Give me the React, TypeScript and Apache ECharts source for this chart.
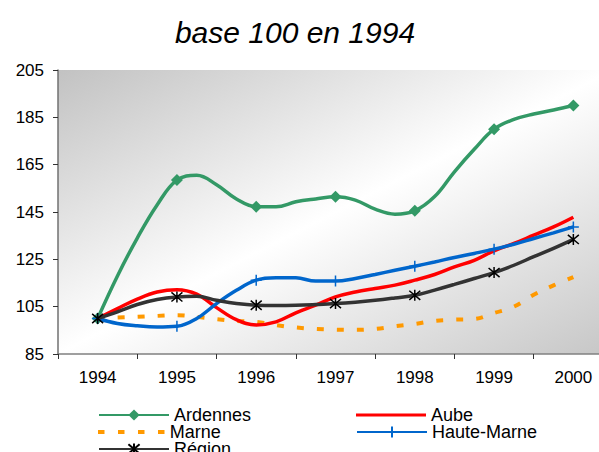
import React, { useEffect, useRef } from "react";
import * as echarts from "echarts";

const TITLE = "base 100 en 1994";
const YEARS = ["1994", "1995", "1996", "1997", "1998", "1999", "2000"];
const Y_MIN = 85;
const Y_MAX = 205;
const Y_STEP = 20;

// quarterly positions of the data points
const QUARTERS = [
  1994, 1994.25, 1994.5, 1994.75, 1995, 1995.25, 1995.5, 1995.75, 1996, 1996.25, 1996.5, 1996.75,
  1997, 1997.25, 1997.5, 1997.75, 1998, 1998.25, 1998.5, 1998.75, 1999, 1999.25, 1999.5, 1999.75, 2000,
];

const ARDENNES = [
  100, 118, 134, 148, 158.5, 160.5, 156.5, 150.5, 147.2, 147.2, 149.3, 150.5,
  151.4, 150, 146.2, 144.1, 145.5, 151.5, 162, 171.5, 180, 184.1, 186.4, 188.1, 190,
];
const AUBE = [
  100, 104.2, 108.2, 111.2, 112.2, 110.3, 104.6, 99.5, 97.3, 98.6, 102.4, 105.6,
  109.1, 111.2, 112.7, 114.1, 116.2, 118.6, 121.8, 124.6, 128.6, 131.7, 135.2, 138.7, 142.8,
];
const MARNE = [
  100, 100.4, 100.7, 101.1, 101.4, 100.7, 99.7, 99, 98.6, 97.2, 96.2, 95.6,
  95.3, 95.2, 95.6, 96.7, 97.7, 99, 99.5, 99.8, 102.3, 105, 110, 114, 117.5,
];
const HAUTE_MARNE = [
  100, 97.9, 96.9, 96.4, 96.7, 100, 106.3, 111.9, 116.2, 117.2, 117.2, 115.8,
  115.8, 116.9, 118.6, 120.4, 122.1, 123.9, 125.8, 127.5, 129.3, 131.4, 133.8, 136.2, 138.7,
];
const REGION = [
  100, 102.8, 105.9, 108, 109.1, 109.4, 107.7, 106.3, 105.6, 105.5, 105.6, 105.9,
  106.3, 106.9, 107.7, 108.7, 109.8, 112, 114.4, 116.9, 119.4, 122.5, 126.1, 129.6, 133.4,
];

const FONT = "'Liberation Sans', Arial, sans-serif";

const PLUS_PATH = "path://M5,0L5,10M0,5L10,5";
const STAR_PATH = "path://M0,0L10,10M10,0L0,10M5,-1L5,11";
const DASH_ICON = "path://M0,0h6.5v4h-6.5z M20,0h6.5v4h-6.5z M40,0h6.5v4h-6.5z M60,0h6.5v4h-6.5z";

function pairs(vals: number[]) {
  return vals.map((v, i) => [QUARTERS[i], v]);
}

const markerSize = (size: number) => (val: number[]) => (Number.isInteger(val[0]) ? size : 0);

export default function App() {
  const ref = useRef<HTMLDivElement>(null);

  useEffect(() => {
    document.body.style.margin = "0";
    if (!ref.current) return;
    const chart = echarts.init(ref.current, null, { renderer: "svg" });

    const legendCommon = {
      orient: "horizontal" as const,
      padding: 0,
      itemWidth: 70,
      itemHeight: 14,
      selectedMode: false,
      textStyle: { fontSize: 18, color: "#000", fontFamily: FONT, lineHeight: 14 },
    };

    const option: any = {
      animation: false,
      backgroundColor: "#ffffff",
      graphic: [
        {
          type: "text",
          x: 295,
          y: 32,
          style: {
            text: TITLE,
            font: `italic 30px ${FONT}`,
            fill: "#000",
            textAlign: "center",
            textVerticalAlign: "middle",
          },
        },
      ],
      grid: {
        left: 58,
        top: 70,
        right: -14,
        bottom: 98,
        containLabel: false,
        outerBoundsMode: "none",
        show: true,
        borderWidth: 0,
        backgroundColor: new echarts.graphic.LinearGradient(0, 0, 1, 1, [
          { offset: 0, color: "#c2c2c2" },
          { offset: 0.5, color: "#ffffff" },
          { offset: 1, color: "#c6c6c6" },
        ]),
      },
      legend: [
        { ...legendCommon, data: ["Ardennes"], left: 98, top: 406 },
        { ...legendCommon, data: [{ name: "Marne", icon: DASH_ICON }], left: 98, top: 423, itemWidth: 67, itemHeight: 4 },
        { ...legendCommon, data: ["Région"], left: 98, top: 440 },
        { ...legendCommon, data: [{ name: "Aube", icon: "rect" }], left: 356, top: 406, itemHeight: 3 },
        { ...legendCommon, data: ["Haute-Marne"], left: 356, top: 423 },
      ],
      xAxis: [
        {
          type: "category",
          data: YEARS,
          boundaryGap: true,
          axisLine: { show: true, lineStyle: { color: "#808080", width: 1.5 } },
          axisTick: { show: true, length: 5, inside: false, lineStyle: { color: "#333", width: 1 } },
          axisLabel: { fontSize: 17, color: "#000", fontFamily: FONT, margin: 15 },
          splitLine: { show: false },
        },
        { type: "value", min: 1993.5, max: 2000.5, show: false },
      ],
      yAxis: {
        type: "value",
        min: Y_MIN,
        max: Y_MAX,
        interval: Y_STEP,
        axisLine: { show: true, lineStyle: { color: "#707070", width: 1.5 } },
        axisTick: { show: true, length: 5, inside: false, lineStyle: { color: "#333", width: 1 } },
        axisLabel: { fontSize: 17, color: "#000", fontFamily: FONT, margin: 14 },
        splitLine: { show: false },
      },
      series: [
        {
          name: "Ardennes",
          type: "line",
          xAxisIndex: 1,
          data: pairs(ARDENNES),
          smooth: 0.4,
          symbol: "diamond",
          symbolSize: markerSize(12),
          lineStyle: { color: "#339966", width: 3.5 },
          itemStyle: { color: "#339966" },
          z: 2,
        },
        {
          name: "Aube",
          type: "line",
          xAxisIndex: 1,
          data: pairs(AUBE),
          smooth: 0.4,
          showSymbol: false,
          symbol: "none",
          lineStyle: { color: "#ff0000", width: 3.5 },
          itemStyle: { color: "#ff0000" },
          z: 3,
        },
        {
          name: "Marne",
          type: "line",
          xAxisIndex: 1,
          data: pairs(MARNE),
          smooth: 0.4,
          showSymbol: false,
          symbol: "none",
          lineStyle: { color: "#ff9900", width: 4, type: [7, 13], cap: "butt" },
          itemStyle: { color: "#ff9900" },
          z: 2,
        },
        {
          name: "Haute-Marne",
          type: "line",
          xAxisIndex: 1,
          data: pairs(HAUTE_MARNE),
          smooth: 0.4,
          symbol: PLUS_PATH,
          symbolSize: markerSize(11),
          lineStyle: { color: "#0066cc", width: 3.5 },
          itemStyle: { color: "#0066cc", borderColor: "#0066cc", borderWidth: 1.5 },
          z: 4,
        },
        {
          name: "Région",
          type: "line",
          xAxisIndex: 1,
          data: pairs(REGION),
          smooth: 0.4,
          symbol: STAR_PATH,
          symbolSize: markerSize(11),
          lineStyle: { color: "#333333", width: 3.5 },
          itemStyle: { color: "#000000", borderColor: "#000000", borderWidth: 1.5 },
          z: 5,
        },
      ],
    };

    chart.setOption(option);
    return () => chart.dispose();
  }, []);

  return <div ref={ref} style={{ width: 599, height: 452 }} />;
}
